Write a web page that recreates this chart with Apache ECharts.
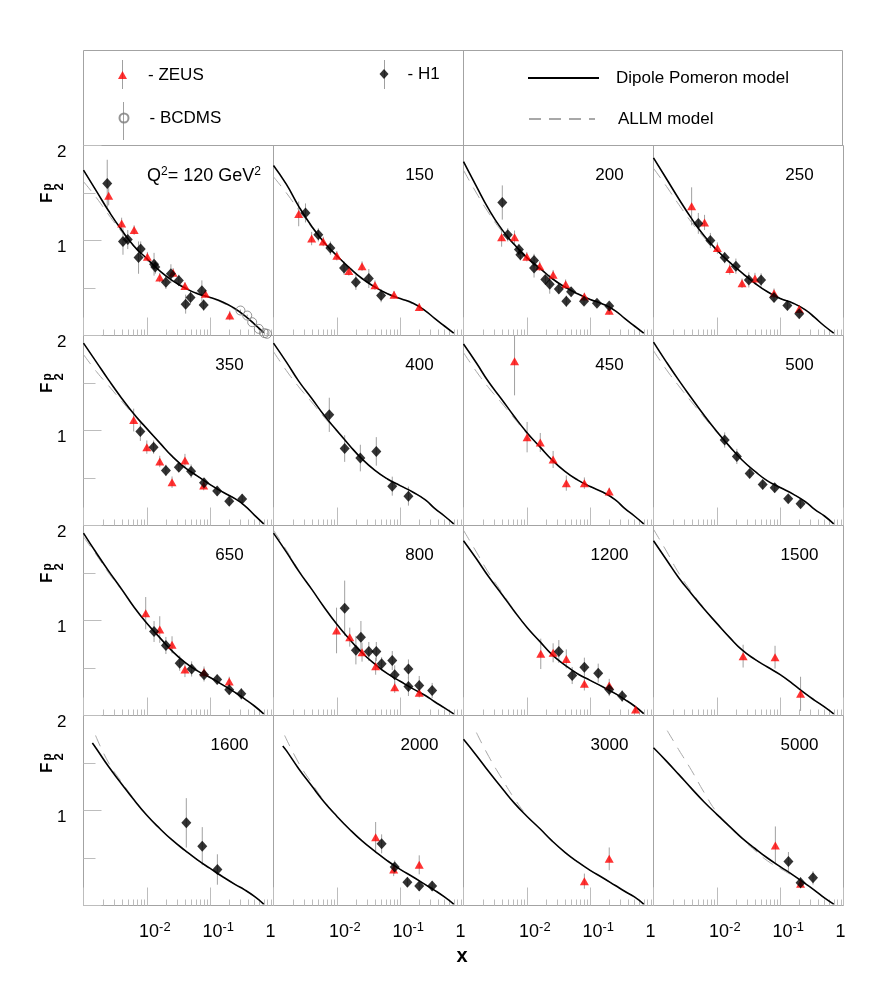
<!DOCTYPE html>
<html><head><meta charset="utf-8">
<script src="https://cdn.jsdelivr.net/npm/echarts@6/dist/echarts.min.js"></script>
<style>html,body{margin:0;padding:0;background:#fff}#c{width:872px;height:1007px}</style>
</head><body><div id="c"></div>
<script>
// ---------------- data ----------------
const Q2_LIST = [120,150,200,250,350,400,450,500,650,800,1200,1500,1600,2000,3000,5000];

const X_TICK_VALUES = [0.001, 0.01, 0.1, 1];
const X_TICK_BASE   = ['', '10', '10', '1'];
const X_TICK_SUP    = ['', '-2', '-1', ''];
const MINOR_TICKS = [0.002,0.003,0.004,0.005,0.006,0.007,0.008,0.009,
                     0.02,0.03,0.04,0.05,0.06,0.07,0.08,0.09,
                     0.2,0.3,0.4,0.5,0.6,0.7,0.8,0.9];

// [x, F2, error]
const ZEUS_DATA = [
 [[0.0025,1.47,0.10],[0.0040,1.18,0.06],[0.0063,1.11,0.05],[0.0102,0.83,0.05],[0.016,0.61,0.05],[0.026,0.66,0.05],[0.040,0.52,0.04],[0.084,0.44,0.04],[0.204,0.21,0.05]],
 [[0.0025,1.28,0.13],[0.0040,1.02,0.07],[0.0061,0.99,0.05],[0.010,0.84,0.05],[0.0155,0.68,0.05],[0.025,0.73,0.05],[0.040,0.53,0.05],[0.080,0.43,0.04],[0.20,0.30,0.04]],
 [[0.0040,1.035,0.10],[0.0064,1.035,0.07],[0.010,0.83,0.05],[0.016,0.73,0.05],[0.026,0.64,0.05],[0.041,0.54,0.05],[0.081,0.41,0.04],[0.20,0.26,0.04]],
 [[0.0040,1.36,0.20],[0.0064,1.19,0.08],[0.0102,0.92,0.06],[0.016,0.70,0.06],[0.025,0.55,0.05],[0.040,0.60,0.06],[0.080,0.445,0.05],[0.20,0.28,0.04]],
 [[0.0062,1.11,0.12],[0.010,0.825,0.07],[0.016,0.674,0.06],[0.025,0.456,0.06],[0.040,0.684,0.07],[0.079,0.42,0.05]],
 [],
 [[0.0064,1.73,0.36],[0.0101,0.93,0.16],[0.0163,0.874,0.10],[0.026,0.695,0.09],[0.042,0.446,0.08],[0.081,0.446,0.06],[0.20,0.358,0.04]],
 [],
 [[0.0096,1.077,0.17],[0.016,0.905,0.14],[0.025,0.744,0.09],[0.040,0.484,0.08],[0.080,0.456,0.06],[0.20,0.358,0.05]],
 [[0.0099,0.895,0.24],[0.016,0.825,0.10],[0.025,0.667,0.10],[0.041,0.519,0.09],[0.082,0.298,0.06],[0.20,0.239,0.05]],
 [[0.0166,0.649,0.16],[0.026,0.66,0.10],[0.042,0.596,0.10],[0.081,0.333,0.07],[0.20,0.316,0.07],[0.52,0.063,0.03]],
 [[0.026,0.625,0.12],[0.083,0.614,0.12],[0.21,0.228,0.18]],
 [],
 [[0.041,0.719,0.16],[0.079,0.379,0.07],[0.20,0.428,0.10]],
 [[0.081,0.256,0.08],[0.20,0.491,0.12]],
 [[0.084,0.632,0.20],[0.21,0.228,0.04]]
];

const H1_DATA = [
 [[0.00237,1.60,0.25],[0.0042,0.99,0.14],[0.0050,1.01,0.10],[0.0074,0.82,0.17],[0.0080,0.91,0.08],[0.0130,0.75,0.12],[0.0136,0.72,0.07],[0.020,0.56,0.07],[0.024,0.65,0.10],[0.032,0.58,0.06],[0.041,0.33,0.10],[0.049,0.40,0.07],[0.074,0.47,0.11],[0.079,0.32,0.06]],
 [[0.0032,1.29,0.10],[0.0051,1.06,0.07],[0.0079,0.92,0.07],[0.013,0.71,0.07],[0.020,0.56,0.08],[0.032,0.60,0.10],[0.050,0.42,0.07]],
 [[0.0041,1.40,0.18],[0.0050,1.06,0.07],[0.0075,0.905,0.06],[0.0079,0.85,0.06],[0.013,0.79,0.07],[0.013,0.71,0.10],[0.0196,0.59,0.05],[0.023,0.54,0.10],[0.032,0.49,0.05],[0.042,0.36,0.06],[0.050,0.46,0.05],[0.080,0.36,0.04],[0.128,0.34,0.03],[0.20,0.31,0.03]],
 [[0.0051,1.18,0.11],[0.0079,1.00,0.08],[0.0133,0.82,0.06],[0.020,0.73,0.08],[0.032,0.585,0.08],[0.050,0.585,0.07],[0.080,0.40,0.05],[0.13,0.315,0.05],[0.20,0.23,0.05]],
 [[0.0079,0.99,0.10],[0.0128,0.825,0.07],[0.020,0.58,0.06],[0.032,0.614,0.05],[0.050,0.572,0.07],[0.080,0.449,0.05],[0.129,0.362,0.05],[0.20,0.256,0.05],[0.32,0.28,0.05]],
 [[0.0076,1.165,0.18],[0.0133,0.81,0.14],[0.0235,0.71,0.14],[0.042,0.78,0.15],[0.075,0.414,0.10],[0.135,0.309,0.10]],
 [],
 [[0.0133,0.90,0.08],[0.0207,0.727,0.08],[0.033,0.547,0.05],[0.053,0.432,0.05],[0.082,0.397,0.05],[0.134,0.281,0.04],[0.21,0.228,0.04]],
 [[0.013,0.884,0.11],[0.020,0.737,0.09],[0.033,0.551,0.08],[0.051,0.49,0.08],[0.080,0.428,0.07],[0.129,0.379,0.05],[0.20,0.27,0.05],[0.31,0.228,0.06]],
 [[0.0133,1.13,0.29],[0.020,0.688,0.15],[0.024,0.825,0.17],[0.032,0.674,0.10],[0.042,0.674,0.10],[0.051,0.544,0.07],[0.075,0.579,0.10],[0.082,0.428,0.10],[0.135,0.49,0.10],[0.135,0.305,0.10],[0.20,0.316,0.10],[0.32,0.263,0.08]],
 [[0.032,0.674,0.12],[0.052,0.421,0.09],[0.081,0.509,0.10],[0.134,0.446,0.10],[0.20,0.274,0.07],[0.32,0.204,0.06]],
 [],
 [[0.042,0.87,0.26],[0.075,0.625,0.20],[0.13,0.379,0.16]],
 [[0.051,0.649,0.10],[0.082,0.404,0.07],[0.13,0.246,0.05],[0.20,0.204,0.05],[0.32,0.204,0.05]],
 [],
 [[0.135,0.463,0.10],[0.21,0.24,0.06],[0.33,0.291,0.07]]
];

const BCDMS_DATA = [[0.301,0.263,0.01],[0.385,0.21,0.01],[0.461,0.14,0.01],[0.586,0.07,0.01],[0.72,0.025,0.006],[0.79,0.018,0.006]];

const CURVE_X = [0.001,0.0016,0.0025,0.004,0.0063,0.01,0.016,0.025,0.04,0.063,0.1,0.16,0.25,0.35,0.5,0.7];

const DP_Y = [
 [1.74,1.52,1.31,1.11,0.94,0.81,0.68,0.58,0.50,0.44,0.40,0.35,0.28,0.21,0.12,0.03],
 [1.79,1.59,1.36,1.15,0.98,0.84,0.71,0.60,0.51,0.44,0.39,0.34,0.26,0.18,0.10,0.025],
 [1.83,1.57,1.33,1.12,0.96,0.82,0.71,0.60,0.51,0.44,0.38,0.33,0.26,0.18,0.10,0.025],
 [1.87,1.65,1.44,1.23,1.05,0.90,0.77,0.66,0.55,0.46,0.39,0.34,0.27,0.19,0.10,0.025],
 [1.92,1.72,1.53,1.34,1.17,1.02,0.87,0.73,0.61,0.52,0.43,0.35,0.28,0.21,0.11,0.017],
 [1.92,1.72,1.52,1.34,1.16,1.00,0.84,0.70,0.58,0.49,0.42,0.35,0.27,0.18,0.10,0.017],
 [1.91,1.71,1.51,1.33,1.15,0.98,0.83,0.69,0.57,0.48,0.41,0.35,0.27,0.18,0.10,0.017],
 [1.93,1.72,1.53,1.34,1.16,0.99,0.83,0.69,0.57,0.47,0.40,0.33,0.25,0.17,0.10,0.017],
 [1.92,1.71,1.52,1.33,1.14,0.97,0.82,0.68,0.56,0.47,0.40,0.32,0.24,0.175,0.10,0.017],
 [1.92,1.72,1.52,1.33,1.14,0.96,0.80,0.66,0.54,0.44,0.36,0.28,0.21,0.145,0.08,0.017],
 [1.84,1.65,1.46,1.28,1.10,0.93,0.78,0.64,0.53,0.44,0.37,0.30,0.23,0.17,0.10,0.02],
 [1.84,1.64,1.45,1.28,1.12,0.97,0.82,0.69,0.59,0.51,0.43,0.33,0.23,0.16,0.09,0.017],
 [null,1.65,1.46,1.28,1.11,0.95,0.81,0.69,0.58,0.48,0.39,0.30,0.22,0.165,0.095,0.015],
 [null,1.63,1.44,1.26,1.09,0.94,0.80,0.68,0.57,0.47,0.38,0.30,0.22,0.16,0.09,0.015],
 [1.75,1.58,1.41,1.24,1.08,0.94,0.81,0.68,0.56,0.46,0.37,0.29,0.21,0.15,0.09,0.015],
 [1.66,1.52,1.38,1.23,1.09,0.96,0.83,0.71,0.60,0.50,0.41,0.32,0.23,0.16,0.08,0.015]
];
const DP_START = [null,null,null,null,null,null,null,null,null,null,null,null,[0.00138,1.71],[0.0014,1.68],null,null];

const ALLM_Y = [
 [1.62,1.45,1.27,1.09,0.93,0.80,0.68,0.59,0.51,0.45,0.40,0.34,0.27,0.20,0.12,0.03],
 [1.67,1.50,1.32,1.14,0.98,0.84,0.71,0.60,0.51,0.44,0.39,0.33,0.26,0.18,0.10,0.025],
 [1.74,1.50,1.29,1.10,0.95,0.82,0.70,0.60,0.51,0.44,0.38,0.33,0.26,0.18,0.10,0.025],
 [1.76,1.57,1.38,1.19,1.03,0.89,0.77,0.65,0.55,0.46,0.39,0.34,0.27,0.19,0.10,0.025],
 [1.80,1.62,1.47,1.31,1.16,1.01,0.87,0.73,0.61,0.52,0.43,0.35,0.28,0.21,0.11,0.017],
 [1.83,1.63,1.46,1.30,1.14,0.99,0.84,0.70,0.58,0.49,0.42,0.35,0.27,0.18,0.10,0.017],
 [1.82,1.62,1.45,1.29,1.13,0.97,0.83,0.69,0.57,0.48,0.41,0.35,0.27,0.18,0.10,0.017],
 [1.84,1.64,1.47,1.30,1.14,0.98,0.83,0.69,0.57,0.47,0.40,0.33,0.25,0.17,0.10,0.017],
 [1.88,1.69,1.50,1.32,1.14,0.97,0.82,0.68,0.56,0.47,0.40,0.32,0.24,0.175,0.10,0.017],
 [1.95,1.74,1.53,1.33,1.14,0.96,0.80,0.66,0.54,0.44,0.36,0.29,0.21,0.145,0.08,0.017],
 [1.95,1.72,1.50,1.30,1.11,0.93,0.78,0.64,0.53,0.44,0.37,0.30,0.23,0.17,0.10,0.02],
 [1.96,1.73,1.50,1.30,1.13,0.97,0.82,0.69,0.59,0.51,0.43,0.33,0.23,0.16,0.09,0.017],
 [null,null,1.50,1.30,1.12,0.95,0.81,0.69,0.58,0.48,0.39,0.30,0.22,0.165,0.095,0.015],
 [null,null,1.50,1.29,1.10,0.94,0.80,0.68,0.57,0.47,0.38,0.30,0.22,0.16,0.09,0.015],
 [null,1.82,1.57,1.34,1.13,0.95,0.81,0.68,0.56,0.46,0.37,0.29,0.21,0.15,0.09,0.015],
 [null,null,1.64,1.42,1.19,0.98,0.83,0.70,0.58,0.47,0.39,0.31,0.23,0.16,0.08,0.015]
];
const ALLM_START = [null,null,null,null,null,null,null,null,null,null,null,null,[0.00155,1.79],[0.0015,1.79],null,[0.00165,1.84]];

// ---------------- layout / style ----------------
const FONT = "'Liberation Sans', Arial, Helvetica, sans-serif";
const BORDER = '#a3a3a3';
const TICK = '#bdbdbd';
const ERR = '#a0a0a0';
const G_LEFT = 83.5, G_TOP = 145.5, CELL = 190;

function buildCurve(ys, start) {
  const pts = [];
  if (start) pts.push(start);
  ys.forEach((y, k) => { if (y !== null) pts.push([CURVE_X[k], y]); });
  return pts;
}
function fmtX(v) {
  const e = Math.round(Math.log10(v));
  const k = X_TICK_VALUES.findIndex(t => Math.round(Math.log10(t)) === e);
  if (k < 0 || X_TICK_BASE[k] === '') return '';
  if (X_TICK_SUP[k] === '') return '{b|' + X_TICK_BASE[k] + '}{q| }';
  return '{p| }{b|' + X_TICK_BASE[k] + '}{s|' + X_TICK_SUP[k] + '}';
}
function errRender(params, api) {
  const x = api.value(0), y = api.value(1), e = api.value(2);
  const a = api.coord([x, Math.min(y + e, 2)]);
  const b = api.coord([x, Math.max(y - e, 0)]);
  return {type: 'line', shape: {x1: a[0], y1: a[1], x2: b[0], y2: b[1]},
          style: {stroke: ERR, lineWidth: 1}};
}
function minorRender(params, api) {
  const p = api.coord([api.value(0), 0]);
  return {type: 'line', shape: {x1: Math.round(p[0]) + 0.5, y1: p[1], x2: Math.round(p[0]) + 0.5, y2: p[1] - 6},
          style: {stroke: TICK, lineWidth: 1}};
}

const grids = [], xAxes = [], yAxes = [], series = [], graphics = [];
Q2_LIST.forEach((q, i) => {
  const r = Math.floor(i / 4), c = i % 4;
  const left = G_LEFT + c * CELL, top = G_TOP + r * CELL;
  grids.push({left: left, top: top, width: CELL, height: CELL, show: true,
              borderColor: BORDER, borderWidth: 1, backgroundColor: 'transparent'});
  xAxes.push({
    type: 'log', logBase: 10, gridIndex: i, min: 0.001, max: 1,
    axisLine: {show: false},
    axisTick: {show: true, inside: true, length: 18, lineStyle: {color: TICK}},
    splitLine: {show: false},
    axisLabel: {
      show: r === 3, margin: 15, formatter: fmtX, color: '#000',
      rich: {
        b: {fontSize: 18, lineHeight: 24, fontFamily: FONT, color: '#000'},
        s: {fontSize: 13, lineHeight: 6, verticalAlign: 'top', fontFamily: FONT, color: '#000'},
        p: {width: 16, fontSize: 13},
        q: {width: 6, fontSize: 13}
      }
    }
  });
  yAxes.push({
    type: 'value', gridIndex: i, min: 0, max: 2, interval: 1,
    axisLine: {show: false},
    axisTick: {show: c === 0, inside: true, length: 18, lineStyle: {color: TICK}},
    minorTick: {show: c === 0, splitNumber: 2, length: 12, lineStyle: {color: TICK}},
    splitLine: {show: false}, minorSplitLine: {show: false},
    axisLabel: {show: c === 0, formatter: v => (v === 0 ? '' : String(v)), fontSize: 17,
                fontFamily: FONT, color: '#000', margin: 17, verticalAlign: 'top', lineHeight: 14}
  });

  series.push({type: 'custom', xAxisIndex: i, yAxisIndex: i, silent: true, z: 1,
               data: MINOR_TICKS.map(v => [v, 0]), renderItem: minorRender});
  const errSets = [ZEUS_DATA[i], H1_DATA[i]];
  if (i === 0) errSets.push(BCDMS_DATA);
  errSets.forEach(d => series.push({type: 'custom', xAxisIndex: i, yAxisIndex: i, silent: true, z: 2,
                                      data: d, renderItem: errRender}));
  series.push({type: 'line', name: 'ALLM model', xAxisIndex: i, yAxisIndex: i, silent: true, z: 3,
               data: buildCurve(ALLM_Y[i], ALLM_START[i]), symbol: 'none', showSymbol: false,
               smooth: 0.5, itemStyle: {color: 'rgba(0,0,0,0)'},
               lineStyle: {color: '#a8a8a8', width: 1, type: [12, 8]}});
  series.push({type: 'line', name: 'Dipole Pomeron model', xAxisIndex: i, yAxisIndex: i, silent: true, z: 4,
               data: buildCurve(DP_Y[i], DP_START[i]), symbol: 'none', showSymbol: false,
               smooth: 0.5, itemStyle: {color: 'rgba(0,0,0,0)'},
               lineStyle: {color: '#000', width: 1.6}});
  if (i === 0) {
    series.push({type: 'scatter', name: 'BCDMS', xAxisIndex: i, yAxisIndex: i, silent: true, z: 5,
                 data: BCDMS_DATA, symbol: 'circle', symbolSize: 9,
                 itemStyle: {color: 'rgba(255,255,255,0)', borderColor: '#7a7a7a', borderWidth: 1}});
  }
  series.push({type: 'scatter', name: 'ZEUS', xAxisIndex: i, yAxisIndex: i, silent: true, z: 6,
               data: ZEUS_DATA[i], symbol: 'triangle', symbolSize: [9, 8],
               itemStyle: {color: '#ff0000'}});
  series.push({type: 'scatter', name: 'H1', xAxisIndex: i, yAxisIndex: i, silent: true, z: 7,
               data: H1_DATA[i], symbol: 'diamond', symbolSize: [10, 11],
               itemStyle: {color: '#000'}});

  // panel Q² label
  if (i === 0) {
    graphics.push({type: 'text', z: 10, style: {
      text: '{a|Q}{s|2}{a|= ' + q + ' GeV}{s|2}', x: 147, y: top + 31, align: 'left', verticalAlign: 'middle',
      rich: {a: {fontSize: 18, lineHeight: 22, fontFamily: FONT, fill: '#000'},
             s: {fontSize: 12, lineHeight: 8, verticalAlign: 'top', fontFamily: FONT, fill: '#000'}}}});
  } else {
    graphics.push({type: 'text', z: 10, style: {
      text: String(q), x: left + 146, y: top + 30, align: 'center', verticalAlign: 'middle',
      fontSize: 17, fontFamily: FONT, fill: '#000'}});
  }
});

// y-axis titles  F2^p  (rotated)
for (let r = 0; r < 4; r++) {
  graphics.push({type: 'group', x: 53, y: 203 + r * CELL, rotation: Math.PI / 2, z: 10, children: [
    {type: 'text', style: {text: 'F', x: 0, y: -6, align: 'left', verticalAlign: 'middle',
                           fontSize: 17, fontWeight: 'bold', fontFamily: FONT, fill: '#000'}},
    {type: 'text', style: {text: 'p', x: 12.5, y: -5.5, align: 'left', verticalAlign: 'middle',
                           fontSize: 12, fontWeight: 'bold', fontFamily: FONT, fill: '#000'}},
    {type: 'text', style: {text: '2', x: 12.5, y: 6, align: 'left', verticalAlign: 'middle',
                           fontSize: 13, fontWeight: 'bold', fontFamily: FONT, fill: '#000'}}
  ]});
}
// x-axis title
graphics.push({type: 'text', z: 10, style: {text: 'x', x: 462, y: 956, align: 'center', verticalAlign: 'middle',
               fontSize: 20, fontWeight: 'bold', fontFamily: FONT, fill: '#000'}});
// legend frame
graphics.push({type: 'rect', z: 0, shape: {x: 83.5, y: 50.5, width: 759, height: 95},
               style: {fill: 'none', stroke: BORDER, lineWidth: 1}});
graphics.push({type: 'line', z: 0, shape: {x1: 463.5, y1: 50.5, x2: 463.5, y2: 145.5},
               style: {stroke: BORDER, lineWidth: 1}});
// error-bar stems drawn through the legend markers
[[122.5, 60, 89], [123.5, 102, 140], [384.5, 60, 89]].forEach(s => graphics.push({
  type: 'line', z: 0, shape: {x1: s[0], y1: s[1], x2: s[0], y2: s[2]}, style: {stroke: ERR, lineWidth: 1}}));

const legText = pad => ({fontSize: 17, lineHeight: 20, color: '#000', fontFamily: FONT, padding: [0, 0, 0, pad]});
const legends = [
  {data: ['ZEUS'], left: 118, top: 65, icon: 'triangle', itemWidth: 9, itemHeight: 8, formatter: '- {name}', textStyle: legText(16)},
  {data: ['BCDMS'], left: 118.5, top: 108, icon: 'circle', itemWidth: 9, itemHeight: 9, formatter: '- {name}', textStyle: legText(16)},
  {data: ['H1'], left: 379.5, top: 64, icon: 'diamond', itemWidth: 9, itemHeight: 10, formatter: '- {name}', textStyle: legText(14)},
  {data: ['Dipole Pomeron model'], left: 527, top: 68, itemWidth: 71, itemHeight: 14, textStyle: legText(12)},
  {data: ['ALLM model'], left: 528, top: 109, itemWidth: 66, itemHeight: 14, textStyle: legText(18)}
].map(l => Object.assign({padding: 0, selectedMode: false, orient: 'horizontal'}, l));

const chart = echarts.init(document.getElementById('c'), null, {renderer: 'canvas'});
chart.setOption({
  animation: false,
  backgroundColor: '#fff',
  textStyle: {fontFamily: FONT},
  legend: legends,
  grid: grids, xAxis: xAxes, yAxis: yAxes, series: series,
  graphic: {elements: graphics}
});
</script>
</body></html>
